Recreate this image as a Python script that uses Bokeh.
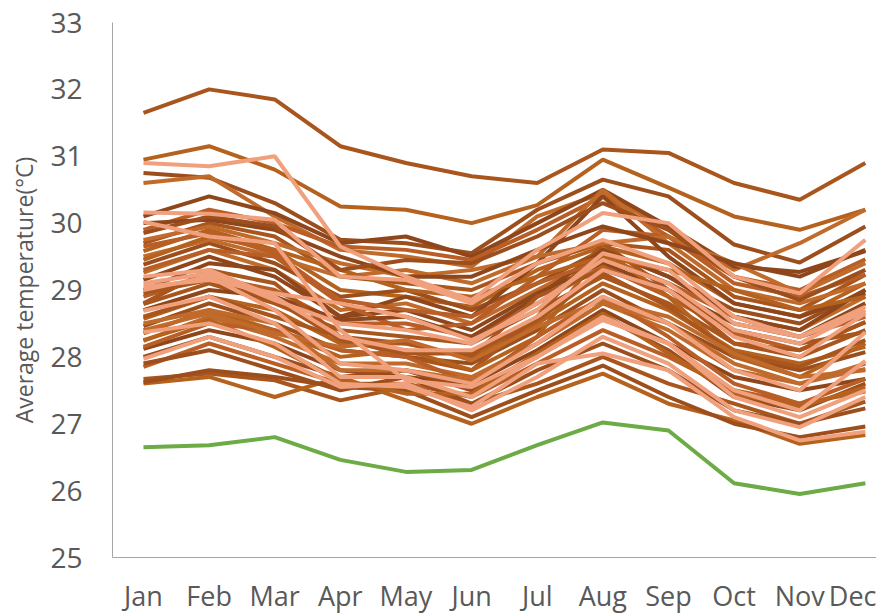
from bokeh.plotting import figure
from bokeh.models import Range1d, FixedTicker
from bokeh.embed import file_html
from bokeh.resources import INLINE

months = ["Jan", "Feb", "Mar", "Apr", "May", "Jun", "Jul", "Aug", "Sep", "Oct", "Nov", "Dec"]
y_ticks = [25, 26, 27, 28, 29, 30, 31, 32, 33]

brown_series = [
    [31.65, 32.00, 31.85, 31.15, 30.90, 30.70, 30.60, 31.10, 31.05, 30.60, 30.35, 30.90],
    [30.95, 31.15, 30.80, 30.25, 30.20, 30.00, 30.27, 30.95, 30.53, 30.10, 29.90, 30.20],
    [30.75, 30.68, 30.30, 29.75, 29.70, 29.55, 30.20, 30.65, 30.40, 29.68, 29.41, 29.95],
    [30.60, 30.70, 30.10, 29.60, 29.50, 29.35, 30.10, 30.45, 29.90, 29.30, 29.70, 30.20],
    [30.10, 30.40, 30.15, 29.70, 29.80, 29.50, 30.00, 30.50, 29.95, 29.35, 29.27, 29.58],
    [29.90, 30.20, 30.00, 29.65, 29.60, 29.45, 29.90, 30.40, 29.80, 29.20, 29.00, 29.46],
    [29.70, 30.00, 29.80, 29.20, 29.10, 29.00, 29.40, 29.70, 29.60, 28.90, 28.70, 29.23],
    [29.58, 29.90, 29.60, 29.00, 28.90, 28.75, 29.30, 29.65, 29.40, 28.80, 28.60, 29.10],
    [29.38, 29.70, 29.40, 28.90, 29.00, 28.70, 29.10, 29.60, 29.20, 28.70, 28.50, 29.00],
    [29.26, 29.60, 29.30, 28.70, 28.80, 28.50, 29.00, 29.50, 29.10, 28.60, 28.40, 28.90],
    [29.15, 29.50, 29.20, 28.60, 28.70, 28.40, 28.95, 29.40, 29.00, 28.50, 28.30, 28.80],
    [28.90, 29.20, 29.00, 28.50, 28.50, 28.30, 28.80, 29.35, 28.90, 28.35, 28.10, 28.52],
    [28.79, 29.10, 28.80, 28.40, 28.30, 28.20, 28.70, 29.20, 28.80, 28.20, 28.00, 28.40],
    [28.57, 28.90, 28.70, 28.20, 28.20, 28.00, 28.50, 29.10, 28.70, 28.10, 27.90, 28.15],
    [28.46, 28.80, 28.50, 28.10, 28.00, 27.90, 28.40, 29.00, 28.50, 28.00, 27.80, 28.07],
    [28.24, 28.60, 28.30, 27.90, 27.90, 27.70, 28.20, 28.80, 28.40, 27.80, 27.60, 27.82],
    [28.12, 28.40, 28.20, 27.80, 27.70, 27.60, 28.10, 28.70, 28.20, 27.70, 27.50, 27.67],
    [27.85, 28.20, 27.90, 27.60, 27.60, 27.40, 27.90, 28.40, 28.00, 27.50, 27.30, 27.48],
    [27.67, 27.75, 27.65, 27.35, 27.55, 27.30, 27.60, 28.00, 27.60, 27.30, 27.00, 27.33],
    [27.60, 27.70, 27.40, 27.70, 27.35, 27.00, 27.40, 27.75, 27.30, 27.05, 26.70, 26.83],
    [27.62, 27.80, 27.70, 27.55, 27.50, 27.10, 27.50, 27.87, 27.40, 27.00, 26.80, 26.96],
    [29.50, 29.75, 29.50, 29.20, 29.30, 29.10, 29.50, 30.50, 29.70, 29.00, 28.80, 29.10],
    [29.00, 29.40, 29.30, 28.60, 28.90, 28.60, 29.40, 30.40, 29.50, 28.80, 28.60, 28.95],
    [29.30, 29.60, 29.50, 28.80, 28.40, 28.50, 29.20, 29.90, 29.80, 29.10, 28.90, 29.23],
    [28.60, 28.90, 28.60, 28.30, 28.00, 27.80, 28.60, 29.70, 29.00, 28.20, 28.10, 28.52],
    [28.35, 28.70, 28.40, 28.00, 28.10, 27.80, 28.30, 29.60, 28.90, 28.00, 27.70, 28.20],
    [28.00, 28.30, 28.00, 27.70, 27.80, 27.50, 28.00, 28.60, 28.10, 27.40, 27.20, 27.60],
    [29.75, 29.95, 29.70, 29.40, 29.20, 29.30, 29.50, 29.70, 29.80, 29.40, 28.95, 29.40],
    [28.70, 29.00, 28.90, 28.55, 28.60, 28.30, 28.90, 29.60, 29.20, 28.60, 28.40, 29.00],
    [28.15, 28.50, 28.40, 28.10, 28.00, 27.60, 28.30, 28.90, 28.30, 27.60, 27.30, 27.67],
    [28.80, 29.30, 29.10, 28.30, 28.20, 28.00, 28.90, 29.30, 29.00, 28.40, 28.20, 28.37],
    [29.45, 29.80, 29.60, 29.30, 29.00, 28.90, 29.20, 29.50, 29.30, 29.00, 28.70, 28.90],
    [27.90, 28.10, 27.80, 27.50, 27.70, 27.30, 27.80, 28.20, 27.80, 27.20, 27.00, 27.23],
    [28.50, 28.70, 28.50, 27.80, 27.80, 27.65, 28.20, 28.80, 28.50, 27.90, 27.60, 27.90],
    [30.00, 30.05, 29.90, 29.50, 29.20, 29.20, 29.60, 29.95, 29.70, 29.40, 29.20, 29.60],
    [29.65, 29.85, 29.55, 28.85, 28.70, 28.60, 29.10, 29.45, 29.10, 28.60, 28.30, 28.60],
    [28.95, 29.15, 28.85, 28.25, 28.05, 28.05, 28.55, 29.25, 28.75, 28.05, 27.85, 28.25],
    [28.25, 28.55, 28.15, 27.65, 27.45, 27.45, 28.05, 28.65, 28.05, 27.45, 27.25, 27.55],
    [29.85, 30.10, 29.95, 29.30, 29.45, 29.40, 29.80, 30.30, 29.90, 29.20, 28.85, 29.30],
    [28.40, 28.65, 28.35, 28.15, 28.25, 27.95, 28.45, 28.85, 28.60, 28.05, 27.70, 27.80],
]

salmon_series = [
    [30.90, 30.85, 31.00, 29.65, 29.20, 28.85, 29.60, 30.15, 30.00, 29.20, 28.95, 29.75],
    [30.16, 30.14, 30.05, 29.20, 29.15, 28.80, 29.40, 29.75, 29.40, 28.60, 28.30, 28.75],
    [30.02, 29.80, 29.70, 28.40, 27.65, 27.55, 28.00, 28.55, 28.20, 27.40, 27.10, 27.50],
    [29.20, 29.30, 28.90, 28.30, 28.10, 28.10, 28.60, 29.30, 29.00, 28.30, 28.00, 28.65],
    [29.10, 29.25, 28.85, 28.50, 28.40, 28.20, 28.80, 29.45, 29.10, 28.40, 28.20, 28.70],
    [29.00, 29.20, 28.70, 27.90, 27.80, 27.60, 28.20, 28.90, 28.50, 27.80, 27.50, 28.37],
    [28.69, 28.90, 28.50, 27.70, 27.70, 27.40, 28.00, 28.60, 28.20, 27.50, 27.20, 27.94],
    [28.37, 28.50, 28.20, 27.60, 27.55, 27.25, 27.90, 28.05, 27.80, 27.10, 26.75, 26.88],
    [27.97, 28.30, 28.00, 27.55, 27.60, 27.20, 27.70, 28.30, 27.90, 27.20, 26.95, 27.40],
    [29.05, 29.15, 28.95, 28.80, 28.60, 28.25, 28.70, 29.55, 29.30, 28.50, 28.30, 28.67],
]

green_series = [26.65, 26.68, 26.80, 26.46, 26.28, 26.31, 26.68, 27.02, 26.90, 26.11, 25.95, 26.11]

brown_colors = ["#A9561E", "#B5621F", "#9C4E1C", "#C06B2C", "#8E461A", "#B85E26"]
salmon_color = "#F0A07C"
green_color = "#6CAB45"
text_color = "#595959"

x = list(range(len(months)))

p = figure(width=876, height=616, output_backend="svg", toolbar_location=None,
           x_range=Range1d(-0.472, 11.17), y_range=Range1d(y_ticks[0], y_ticks[-1]),
           min_border_left=112, min_border_right=0, min_border_top=22, min_border_bottom=56)

for i, s in enumerate(brown_series):
    p.line(x, s, line_color=brown_colors[i % len(brown_colors)], line_width=4)
for s in salmon_series:
    p.line(x, s, line_color=salmon_color, line_width=4)
p.line(x, green_series, line_color=green_color, line_width=4)

p.grid.visible = False
p.outline_line_color = None
p.background_fill_color = "white"
p.border_fill_color = "white"

p.xaxis.ticker = FixedTicker(ticks=x)
p.xaxis.major_label_overrides = {i: m for i, m in enumerate(months)}
p.yaxis.ticker = FixedTicker(ticks=y_ticks)

for ax in (p.xaxis[0], p.yaxis[0]):
    ax.axis_line_color = "#A6A6A6"
    ax.axis_line_width = 1
    ax.major_tick_line_color = None
    ax.minor_tick_line_color = None
    ax.major_tick_out = 0
    ax.major_tick_in = 0
    ax.minor_tick_out = 0
    ax.minor_tick_in = 0
    ax.major_label_text_font = "Open Sans"
    ax.major_label_text_color = text_color

p.xaxis.major_label_text_font_size = "27px"
p.yaxis.major_label_text_font_size = "28px"
p.xaxis.major_label_standoff = 19
p.yaxis.major_label_standoff = 30
p.yaxis.axis_label = "Average temperature(°C)"
p.yaxis.axis_label_text_font = "Open Sans"
p.yaxis.axis_label_text_font_size = "23px"
p.yaxis.axis_label_text_font_style = "normal"
p.yaxis.axis_label_text_color = text_color
p.yaxis.axis_label_standoff = 7

open("out.html", "w").write(file_html(p, INLINE))
